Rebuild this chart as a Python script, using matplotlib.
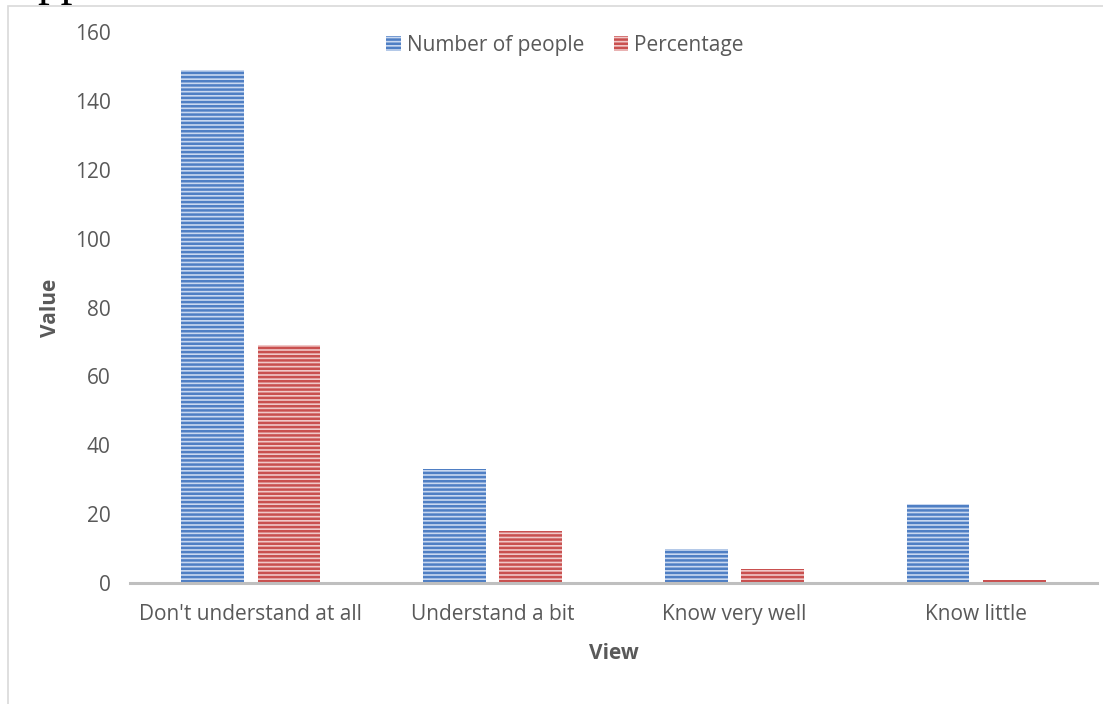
import matplotlib
matplotlib.use("Agg")
import matplotlib.pyplot as plt
import numpy as np
from matplotlib.patches import Rectangle

categories = ["Don't understand at all", "Understand a bit", "Know very well", "Know little"]
people = [149, 33, 10, 23]
percentage = [69, 15, 4, 1]
series_labels = ["Number of people", "Percentage"]
yticks = [0, 20, 40, 60, 80, 100, 120, 140, 160]

GRAY = "#595959"
BLUE_FACE, BLUE_HATCH = "#c9d8f0", "#4f7fc4"
RED_FACE, RED_HATCH = "#f0c8c8", "#c9504f"

plt.rcParams["font.family"] = ["Open Sans", "DejaVu Sans"]
plt.rcParams["hatch.linewidth"] = 1.8

fig = plt.figure(figsize=(11.03, 7.04), dpi=100)
ax = fig.add_axes([130 / 1103, 1 - 583 / 704, 967 / 1103, 551 / 704])

x = np.arange(len(categories))
bw, off = 0.26, 0.158
ax.bar(x - off, people, width=bw, color=BLUE_FACE, edgecolor=BLUE_HATCH,
       linewidth=0, hatch="----", label=series_labels[0], zorder=3)
ax.bar(x + off, percentage, width=bw, color=RED_FACE, edgecolor=RED_HATCH,
       linewidth=0, hatch="----", label=series_labels[1], zorder=3)

ax.set_xlim(-0.5, 3.5)
ax.set_ylim(0, 160)
ax.set_yticks(yticks)
ax.set_xticks(x)
ax.set_xticklabels(categories)
ax.tick_params(axis="both", length=0, labelsize=15, colors=GRAY)
ax.tick_params(axis="x", pad=15)
ax.tick_params(axis="y", pad=14)
for s in ("top", "right", "left"):
    ax.spines[s].set_visible(False)
ax.spines["bottom"].set_color("#bfbfbf")
ax.spines["bottom"].set_linewidth(2.2)
ax.spines["bottom"].set_zorder(4)

ax.set_ylabel("Value", fontsize=15, fontweight="bold", color=GRAY, labelpad=10)
ax.set_xlabel("View", fontsize=15, fontweight="bold", color=GRAY, labelpad=13)

ax.legend(loc="center", bbox_to_anchor=(565 / 1103, 1 - 45 / 704),
          bbox_transform=fig.transFigure, ncol=2, frameon=False, fontsize=15,
          labelcolor=GRAY, handlelength=0.7, handleheight=0.7,
          handletextpad=0.3, columnspacing=1.4)

# chart area border and clipped document text above it
fig.patches.append(Rectangle((8 / 1103, -0.05), 1.1, 1 - 6 / 704 + 0.05,
                             transform=fig.transFigure, fill=False,
                             edgecolor="#d9d9d9", linewidth=1.2))
fig.text(37 / 1103, 1 + 5 / 704, "pp", family="Liberation Serif",
         fontsize=34, va="baseline", color="black")

fig.savefig("out.png", dpi=100)
